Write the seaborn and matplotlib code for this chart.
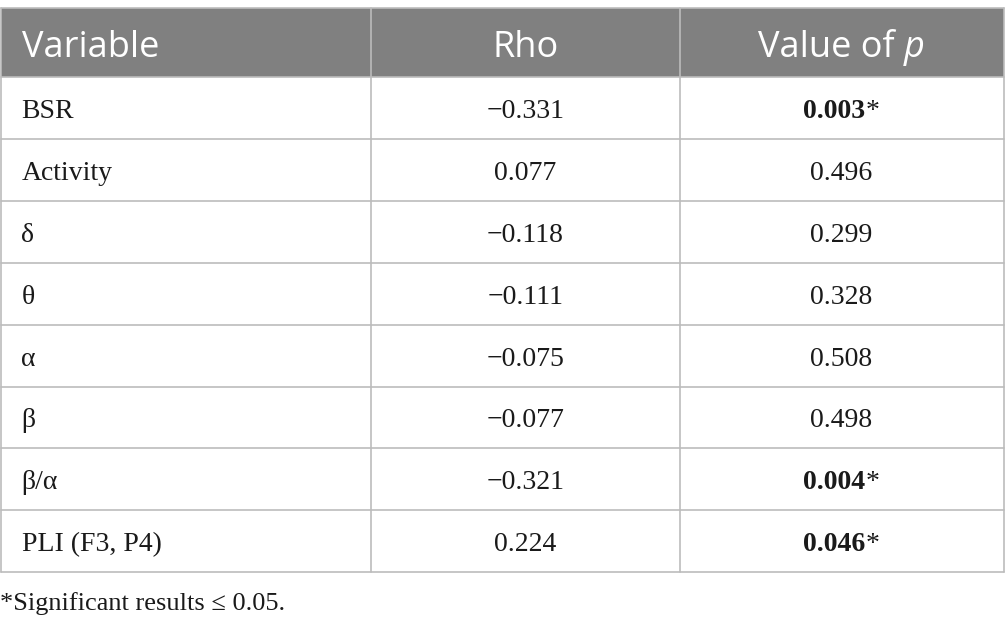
import matplotlib
matplotlib.use("Agg")
import matplotlib.pyplot as plt
import seaborn as sns

# Table content
headers = ["Variable", "Rho", "Value of "]
variables = ["BSR", "Activity", "δ", "θ", "α", "β", "β/α", "PLI (F3, P4)"]
rho = ["−0.331", "0.077", "−0.118", "−0.111", "−0.075", "−0.077", "−0.321", "0.224"]
p_values = ["0.003", "0.496", "0.299", "0.328", "0.508", "0.498", "0.004", "0.046"]
significant = [True, False, False, False, False, False, True, True]
footnote = "*Significant results ≤ 0.05."

sns.set_theme(style="white")

# Layout (pixels)
W, H = 1005, 631
col_edges = [0.5, 371, 679.5, 1003.5]
top = 8.3
header_bottom = 77
row_h = 61.9
header_gray = "#808080"
line_gray = "#bcbcbc"
serif = "Liberation Serif"
sans = "Open Sans"
body_size = 20
head_size = 26

fig = plt.figure(figsize=(W / 100, H / 100), dpi=100)
ax = fig.add_axes([0, 0, 1, 1])
ax.set_xlim(0, W)
ax.set_ylim(H, 0)
ax.axis("off")

n = len(variables)
bottom = header_bottom + n * row_h

# header background
ax.fill_between([col_edges[0], col_edges[-1]], top, header_bottom, color=header_gray, lw=0)

# grid lines
ax.plot([col_edges[0], col_edges[-1]], [top, top], color=line_gray, lw=1.2)
for i in range(n + 1):
    y = header_bottom + i * row_h
    ax.plot([col_edges[0], col_edges[-1]], [y, y], color=line_gray, lw=1.2)
for x in col_edges:
    ax.plot([x, x], [top, bottom], color=line_gray, lw=1.2)

c1 = col_edges[0] + 21
c2 = (col_edges[1] + col_edges[2]) / 2
c3 = (col_edges[2] + col_edges[3]) / 2

# header text
hb = (top + header_bottom) / 2 + 14.5
ax.text(c1, hb, headers[0], color="white", fontsize=head_size, family=sans, va="baseline", ha="left")
ax.text(c2, hb, headers[1], color="white", fontsize=head_size, family=sans, va="baseline", ha="center")

fig.canvas.draw()
renderer = fig.canvas.get_renderer()


def two_part(x_center, y, a, b, kw_a, kw_b):
    # draw two text pieces side by side, centred together on x_center
    ta = ax.text(0, y, a, va="baseline", ha="left", **kw_a)
    tb = ax.text(0, y, b, va="baseline", ha="left", **kw_b)
    wa = ta.get_window_extent(renderer).width
    wb = tb.get_window_extent(renderer).width
    x0 = x_center - (wa + wb) / 2
    ta.set_x(x0)
    tb.set_x(x0 + wa)


two_part(c3, hb, headers[2], "p",
         dict(color="white", fontsize=head_size, family=sans),
         dict(color="white", fontsize=head_size, family=sans, style="italic"))

# body rows
for i, (v, r, p, s) in enumerate(zip(variables, rho, p_values, significant)):
    yb = header_bottom + (i + 0.5) * row_h + 10
    ax.text(c1, yb, v, fontsize=body_size, family=serif, color="#1a1a1a", va="baseline", ha="left")
    ax.text(c2, yb, r, fontsize=body_size, family=serif, color="#1a1a1a", va="baseline", ha="center")
    if s:
        two_part(c3, yb, p, "*",
                 dict(fontsize=body_size, family=serif, color="#1a1a1a", weight="bold"),
                 dict(fontsize=body_size, family=serif, color="#1a1a1a"))
    else:
        ax.text(c3, yb, p, fontsize=body_size, family=serif, color="#1a1a1a", va="baseline", ha="center")

ax.text(0, 610, footnote, fontsize=19, family=serif, color="#1a1a1a", va="baseline", ha="left")

fig.savefig("out.png", dpi=100)
